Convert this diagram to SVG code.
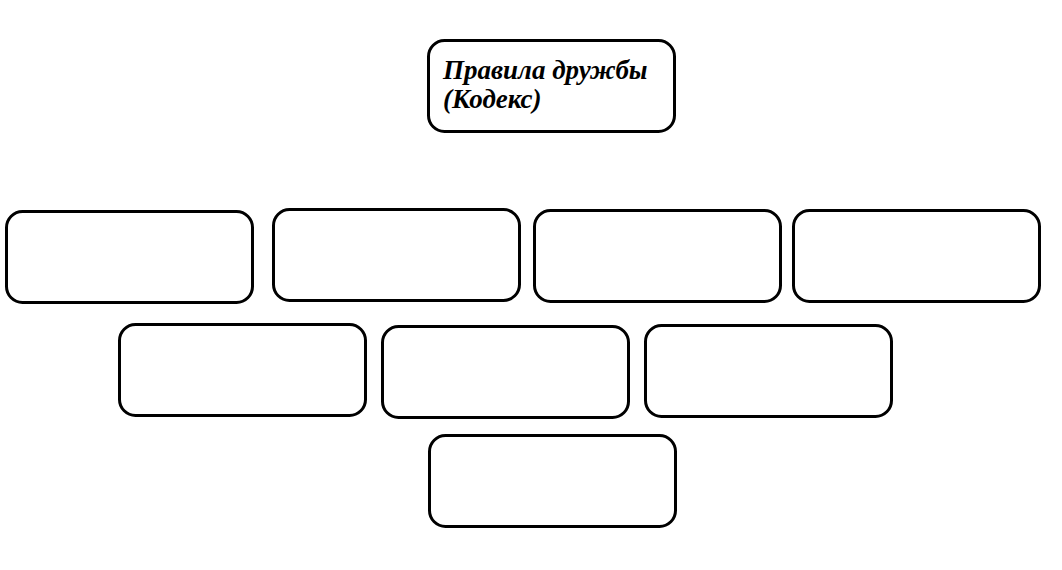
<svg xmlns="http://www.w3.org/2000/svg" width="1062" height="570" viewBox="0 0 1062 570">
<style>
.box{fill:#fff;stroke:#000;stroke-width:3}
.t{font-family:"Liberation Serif","DejaVu Serif",serif;font-weight:bold;font-style:italic;font-size:27px;fill:#000}
</style>
<rect width="1062" height="570" fill="#fff"/>
<g id="title"><rect class="box" x="428.5" y="40.5" width="246" height="91" rx="16"/>
<text class="t" x="443" y="79">Правила дружбы</text>
<text class="t" x="443" y="108">(Кодекс)</text></g>
<g id="n1"><rect class="box" x="6.5" y="211.5" width="246" height="91" rx="16"/></g>
<g id="n2"><rect class="box" x="273.5" y="209.5" width="246" height="91" rx="16"/></g>
<g id="n3"><rect class="box" x="534.5" y="210.5" width="246" height="91" rx="16"/></g>
<g id="n4"><rect class="box" x="793.5" y="210.5" width="246" height="91" rx="16"/></g>
<g id="n5"><rect class="box" x="119.5" y="324.5" width="246" height="91" rx="16"/></g>
<g id="n6"><rect class="box" x="382.5" y="326.5" width="246" height="91" rx="16"/></g>
<g id="n7"><rect class="box" x="645.5" y="325.5" width="246" height="91" rx="16"/></g>
<g id="n8"><rect class="box" x="429.5" y="435.5" width="246" height="91" rx="16"/></g>
<g id="connectors"></g>
</svg>
